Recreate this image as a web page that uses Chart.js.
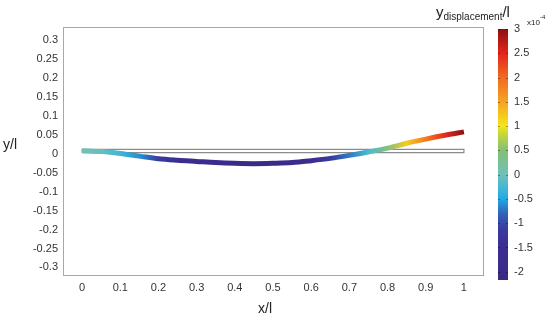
<!DOCTYPE html>
<html>
<head>
<meta charset="utf-8">
<script src="https://cdn.jsdelivr.net/npm/chart.js@4.4.0/dist/chart.umd.min.js"></script>
<style>
  html, body { margin: 0; padding: 0; background: #fff; }
  #wrap { position: relative; width: 550px; height: 319px; }
  #wrap canvas { position: absolute; left: 0; top: 0; }
</style>
</head>
<body>
<div id="wrap">
  <canvas id="beam-chart" width="550" height="319"></canvas>
  <canvas id="colorbar" width="550" height="319"></canvas>
</div>
<script>
// Deformed beam, coloured by y displacement

// positions along the beam (x/l)
const xPos = [0, 0.05, 0.1, 0.15, 0.2, 0.25, 0.3, 0.35, 0.4, 0.45, 0.5,
              0.55, 0.6, 0.65, 0.7, 0.75, 0.8, 0.85, 0.9, 0.95, 1];
// deformed shape (y/l)
const yDeflect = [0.008, 0.006, 0.001, -0.006, -0.013, -0.017, -0.020, -0.023, -0.025, -0.026, -0.025,
                  -0.023, -0.018, -0.012, -0.004, 0.005, 0.015, 0.028, 0.039, 0.049, 0.058];
// y displacement at each position (x10^-4)
const yDisp = [0, -0.05, -0.3, -0.6, -1.15, -1.5, -1.7, -1.85, -2.0, -2.05, -2.0,
               -1.85, -1.55, -1.2, -0.7, -0.2, 0.4, 1.2, 1.85, 2.45, 3.0];

// undeformed beam outline
const beamX = [0, 1, 1, 0, 0];
const beamY = [0.003, 0.003, 0.012, 0.012, 0.003];

// tick labels
const xTicks = [0, 0.1, 0.2, 0.3, 0.4, 0.5, 0.6, 0.7, 0.8, 0.9, 1];
const yTicks = [-0.3, -0.25, -0.2, -0.15, -0.1, -0.05, 0, 0.05, 0.1, 0.15, 0.2, 0.25, 0.3];
const cbTicks = [-2, -1.5, -1, -0.5, 0, 0.5, 1, 1.5, 2, 2.5, 3];
const cbMin = -2.17;
const cbMax = 3;

const FONT = "'Liberation Sans', Arial, Helvetica, sans-serif";
const TEXT = '#333';

// colour map (value in x10^-4 -> colour)
const cmap = [
    [-2.17, [58, 42, 133]],
    [-1.5, [61, 45, 145]],
    [-1.1, [58, 60, 160]],
    [-0.8, [50, 100, 185]],
    [-0.5, [34, 168, 228]],
    [-0.25, [70, 184, 212]],
    [0, [112, 192, 184]],
    [0.5, [132, 192, 116]],
    [0.85, [200, 216, 56]],
    [1, [245, 230, 26]],
    [1.5, [245, 163, 35]],
    [2, [240, 106, 34]],
    [2.5, [226, 38, 28]],
    [3, [140, 16, 16]]
];

function colourAt(v) {
    if (v <= cmap[0][0]) return rgb(cmap[0][1]);
    for (let i = 1; i < cmap.length; i++) {
        if (v <= cmap[i][0]) {
            const [v0, c0] = cmap[i - 1];
            const [v1, c1] = cmap[i];
            const t = (v - v0) / (v1 - v0);
            return rgb(c0.map((c, k) => c + (c1[k] - c) * t));
        }
    }
    return rgb(cmap[cmap.length - 1][1]);
}

function rgb(c) {
    return 'rgb(' + c.map(Math.round).join(',') + ')';
}

function fmt(v) {
    return String(+v.toFixed(2));
}

// horizontal gradient along the deformed beam
function curveGradient(context) {
    const chart = context.chart;
    if (!chart.chartArea) return '#3a2a85';
    const xs = chart.scales.x;
    const p0 = xs.getPixelForValue(xPos[0]);
    const p1 = xs.getPixelForValue(xPos[xPos.length - 1]);
    const g = chart.ctx.createLinearGradient(p0, 0, p1, 0);
    xPos.forEach((x, i) => {
        const t = (xs.getPixelForValue(x) - p0) / (p1 - p0);
        g.addColorStop(Math.min(1, Math.max(0, t)), colourAt(yDisp[i]));
    });
    return g;
}

const framePlugin = {
    id: 'frame',
    beforeDatasetsDraw(chart) {
        const { ctx, chartArea: a } = chart;
        ctx.save();
        ctx.strokeStyle = '#a8a8a8';
        ctx.lineWidth = 1;
        ctx.strokeRect(a.left + 0.5, a.top + 0.5, a.right - a.left, a.bottom - a.top);
        ctx.restore();
    },
    afterDraw(chart) {
        const { ctx, chartArea: a } = chart;
        ctx.save();
        ctx.fillStyle = '#222';
        ctx.textBaseline = 'alphabetic';

        // axis titles
        ctx.font = '14px ' + FONT;
        ctx.textAlign = 'left';
        ctx.fillText('y/l', 3, 149);
        ctx.textAlign = 'center';
        ctx.fillText('x/l', (a.left + a.right) / 2 - 8, 313);

        // colour bar title: y_displacement / l
        ctx.textAlign = 'left';
        let x = 436;
        ctx.font = '15px ' + FONT;
        ctx.fillText('y', x, 17);
        x += ctx.measureText('y').width;
        ctx.font = '10px ' + FONT;
        ctx.fillText('displacement', x, 20);
        x += ctx.measureText('displacement').width;
        ctx.font = '15px ' + FONT;
        ctx.fillText('/l', x, 17);

        // exponent
        ctx.font = '8px ' + FONT;
        ctx.fillText('x10', 527, 25);
        const w = ctx.measureText('x10').width;
        ctx.font = '6px ' + FONT;
        ctx.fillText('-4', 527 + w, 19);
        ctx.restore();
    }
};

new Chart(document.getElementById('beam-chart'), {
    type: 'scatter',
    data: {
        datasets: [{
            label: 'deformed',
            data: xPos.map((x, i) => ({ x: x, y: yDeflect[i] })),
            showLine: true,
            borderWidth: 5,
            borderCapStyle: 'butt',
            borderColor: curveGradient,
            pointRadius: 0,
            cubicInterpolationMode: 'monotone',
            order: 0
        }, {
            label: 'beam',
            data: beamX.map((x, i) => ({ x: x, y: beamY[i] })),
            showLine: true,
            borderWidth: 1.2,
            borderColor: '#8c8c8c',
            pointRadius: 0,
            tension: 0,
            order: 1
        }]
    },
    options: {
        responsive: false,
        animation: false,
        layout: { padding: { top: 27, right: 67, bottom: 0, left: 0 } },
        plugins: {
            legend: { display: false },
            tooltip: { enabled: false }
        },
        scales: {
            x: {
                type: 'linear',
                min: -0.05,
                max: 1.05,
                grid: { display: false, drawTicks: false },
                border: { display: false },
                afterBuildTicks: s => { s.ticks = xTicks.map(v => ({ value: v })); },
                afterFit: s => { s.height = 44; },
                ticks: {
                    padding: 6,
                    autoSkip: false,
                    maxRotation: 0,
                    color: TEXT,
                    font: { family: FONT, size: 11 },
                    callback: v => fmt(v)
                }
            },
            y: {
                type: 'linear',
                min: -0.32,
                max: 0.335,
                grid: { display: false, drawTicks: false },
                border: { display: false },
                afterBuildTicks: s => { s.ticks = yTicks.map(v => ({ value: v })); },
                afterFit: s => { s.width = 63; },
                ticks: {
                    padding: 5,
                    autoSkip: false,
                    color: TEXT,
                    font: { family: FONT, size: 11 },
                    callback: v => fmt(v)
                }
            }
        }
    },
    plugins: [framePlugin]
});

// Colour bar
const cbTickPlugin = {
    id: 'cbTicks',
    afterDatasetsDraw(chart) {
        const { ctx, chartArea: a } = chart;
        const ys = chart.scales.y;
        ctx.save();
        ctx.strokeStyle = 'rgba(0,0,0,0.35)';
        ctx.lineWidth = 1;
        cbTicks.forEach(v => {
            const p = Math.round(ys.getPixelForValue(v)) + 0.5;
            ctx.beginPath();
            ctx.moveTo(a.left, p);
            ctx.lineTo(a.left + 2, p);
            ctx.moveTo(a.right - 2, p);
            ctx.lineTo(a.right, p);
            ctx.stroke();
        });
        ctx.restore();
    }
};

new Chart(document.getElementById('colorbar'), {
    type: 'bar',
    data: {
        labels: ['cb'],
        datasets: [{
            data: [[cbMin, cbMax]],
            backgroundColor: context => {
                const chart = context.chart;
                if (!chart.chartArea) return '#888';
                const ys = chart.scales.y;
                const top = ys.getPixelForValue(cbMax);
                const bottom = ys.getPixelForValue(cbMin);
                const g = chart.ctx.createLinearGradient(0, bottom, 0, top);
                cmap.forEach(([v, c]) => {
                    g.addColorStop((v - cbMin) / (cbMax - cbMin), rgb(c));
                });
                return g;
            },
            borderWidth: 0,
            barPercentage: 1,
            categoryPercentage: 1
        }]
    },
    options: {
        responsive: false,
        animation: false,
        layout: { padding: { left: 498, top: 29, bottom: 39, right: 0 } },
        plugins: {
            legend: { display: false },
            tooltip: { enabled: false }
        },
        scales: {
            x: { display: false },
            y: {
                position: 'right',
                min: cbMin,
                max: cbMax,
                grid: { display: false, drawTicks: false },
                border: { display: false },
                afterBuildTicks: s => { s.ticks = cbTicks.map(v => ({ value: v })); },
                afterFit: s => { s.width = 42; },
                ticks: {
                    padding: 6,
                    autoSkip: false,
                    color: TEXT,
                    font: { family: FONT, size: 11 },
                    callback: v => fmt(v)
                }
            }
        }
    },
    plugins: [cbTickPlugin]
});
</script>
</body>
</html>
